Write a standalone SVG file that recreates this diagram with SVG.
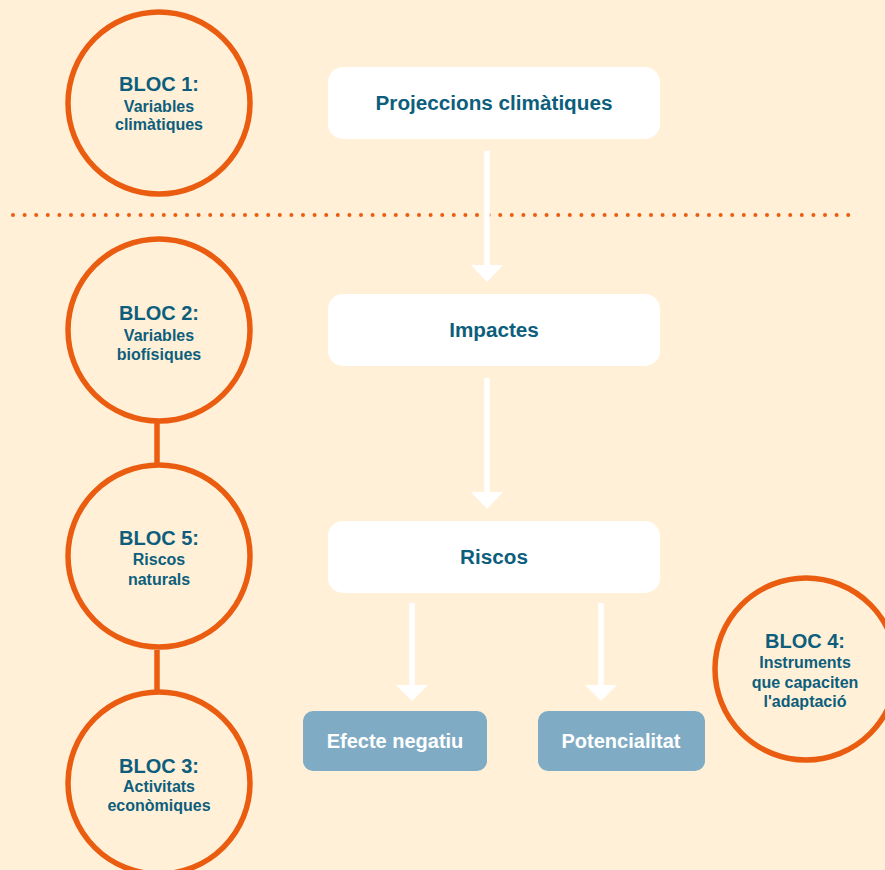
<svg xmlns="http://www.w3.org/2000/svg" width="885" height="870" viewBox="0 0 885 870">
<defs>
<style>
.bg{fill:#fff0d7}
.circ{fill:none;stroke:#ea5d10;stroke-width:5.5}
.link{stroke:#ea5d10;stroke-width:5.5}
.box{fill:#ffffff}
.bbox{fill:#7facc4}
.t{font-family:"Liberation Sans",Arial,sans-serif;font-weight:bold;fill:#0d5e7c;text-anchor:middle}
.h{font-size:20px}
.s{font-size:16px}
.bt{font-size:20.7px}
.wt{font-family:"Liberation Sans",Arial,sans-serif;font-weight:bold;fill:#ffffff;text-anchor:middle;font-size:20px}
.shaft{stroke:#ffffff;stroke-width:5.5}
.head{fill:#ffffff}
.dots{stroke:#ea5d10;stroke-width:4;stroke-linecap:round;stroke-dasharray:0 11.6;fill:none}
</style>
</defs>
<rect class="bg" x="0" y="0" width="885" height="870"/>
<path class="dots" d="M13 215 H851"/>
<g id="connectors">
<line class="link" x1="157" y1="423" x2="157" y2="463"/>
<line class="link" x1="157" y1="650" x2="157" y2="690"/>
<line class="shaft" x1="487" y1="151" x2="487" y2="268"/>
<polygon class="head" points="471,265 503,265 487,282"/>
<line class="shaft" x1="487" y1="378" x2="487" y2="495"/>
<polygon class="head" points="471,492 503,492 487,509"/>
<line class="shaft" x1="412" y1="603" x2="412" y2="688"/>
<polygon class="head" points="396,685 428,685 412,701"/>
<line class="shaft" x1="601" y1="603" x2="601" y2="688"/>
<polygon class="head" points="585,685 617,685 601,701"/>
</g>
<g id="bloc1">
<circle class="circ" cx="159" cy="103" r="91"/>
<text class="t h" x="159" y="91">BLOC 1:</text>
<text class="t s" x="159" y="112">Variables</text>
<text class="t s" x="159" y="130">climàtiques</text>
</g>
<g id="bloc2">
<circle class="circ" cx="159" cy="330" r="91"/>
<text class="t h" x="159" y="320">BLOC 2:</text>
<text class="t s" x="159" y="341">Variables</text>
<text class="t s" x="159" y="360">biofísiques</text>
</g>
<g id="bloc5">
<circle class="circ" cx="159" cy="556" r="91"/>
<text class="t h" x="159" y="545">BLOC 5:</text>
<text class="t s" x="159" y="565">Riscos</text>
<text class="t s" x="159" y="585">naturals</text>
</g>
<g id="bloc3">
<circle class="circ" cx="159" cy="783" r="91"/>
<text class="t h" x="159" y="773">BLOC 3:</text>
<text class="t s" x="159" y="792">Activitats</text>
<text class="t s" x="159" y="811">econòmiques</text>
</g>
<g id="bloc4">
<circle class="circ" cx="806" cy="669" r="91"/>
<text class="t h" x="805" y="648">BLOC 4:</text>
<text class="t s" x="805" y="668">Instruments</text>
<text class="t s" x="805" y="688">que capaciten</text>
<text class="t s" x="805" y="707">l'adaptació</text>
</g>
<g id="projeccions">
<rect class="box" x="328" y="67" width="332" height="72" rx="15"/>
<text class="t bt" x="494" y="110">Projeccions climàtiques</text>
</g>
<g id="impactes">
<rect class="box" x="328" y="294" width="332" height="72" rx="15"/>
<text class="t bt" x="494" y="337">Impactes</text>
</g>
<g id="riscos">
<rect class="box" x="328" y="521" width="332" height="72" rx="15"/>
<text class="t bt" x="494" y="564">Riscos</text>
</g>
<g id="efecte">
<rect class="bbox" x="303" y="711" width="184" height="60" rx="10"/>
<text class="wt" x="395" y="748">Efecte negatiu</text>
</g>
<g id="potencialitat">
<rect class="bbox" x="538" y="711" width="167" height="60" rx="10"/>
<text class="wt" x="621" y="748">Potencialitat</text>
</g>
</svg>
